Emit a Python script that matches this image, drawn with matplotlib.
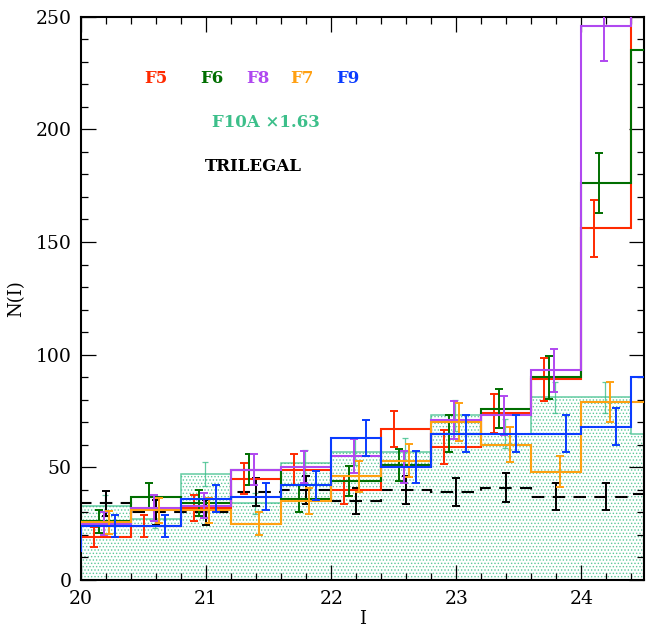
import matplotlib
matplotlib.use("Agg")
import matplotlib.pyplot as plt
import numpy as np
from matplotlib.ticker import MultipleLocator

# Bin edges in I (0.4 mag bins); the first bin sits just left of the plotted range
edges = np.arange(19.6, 24.81, 0.4)
centers = edges[:-1] + 0.2

# Counts per bin (first entry is the out-of-range 19.6-20.0 bin)
f5 = [19, 19, 24, 32, 45, 49, 40, 67, 59, 74, 89, 156, 270]
f6 = [26, 26, 37, 34, 49, 36, 44, 51, 65, 76, 90, 176, 235]
f8 = [25, 25, 32, 33, 49, 50, 55, 50, 71, 73, 93, 246, 300]
f7 = [25.6, 25.6, 31, 31, 25, 35, 46, 53, 70, 60, 48, 79, 79]
f9 = [13, 24, 24, 36, 37, 42, 63, 50, 65, 65, 65, 68, 90]
f10a = [24, 33, 27, 47, 34, 52, 57, 57, 73, 65, 81, 81, 65]
trilegal = [34, 34, 30, 30, 39, 40, 35, 40, 39, 41, 37, 37, 38]

# Poisson error bars per bin
f5_err = [4.4, 4.4, 4.9, 5.7, 6.7, 7.0, 6.3, 8.2, 7.7, 8.6, 9.4, 12.5, 16]
f6_err = [5.1, 5.1, 6.1, 5.8, 7.0, 6.0, 6.6, 7.1, 8.1, 8.7, 9.5, 13.3, 15]
f8_err = [5.0, 5.0, 5.7, 5.7, 7.0, 7.1, 7.4, 7.1, 8.4, 8.5, 9.6, 15.7, 17]
f7_err = [5.1, 5.1, 5.6, 5.6, 5.0, 5.9, 6.8, 7.3, 8.4, 7.7, 6.9, 8.9, 8.9]
f9_err = [3.6, 4.9, 4.9, 6.0, 6.1, 6.5, 7.9, 7.1, 8.1, 8.1, 8.1, 8.2, 9.5]
f10a_err = [3.8, 4.5, 4.1, 5.5, 4.6, 5.6, 5.9, 5.9, 6.7, 6.3, 7.0, 7.0, 6.3]
trilegal_err = [5.7, 5.7, 5.5, 5.5, 6.3, 6.3, 5.9, 6.3, 6.3, 6.5, 6.1, 6.1, 6.2]

RED = "#ff2a00"
GREEN = "#006e00"
PURPLE = "#b048f0"
ORANGE = "#ffa012"
BLUE = "#0a3cff"
TEAL = "#3cbf8a"

plt.rcParams["font.family"] = ["DejaVu Serif"]
plt.rcParams["hatch.linewidth"] = 0.6

fig = plt.figure(figsize=(6.46, 6.30), dpi=100)
ax = fig.add_axes([0.1254, 0.0794, 0.8715, 0.8941])

# F10A: dotted shading under the rescaled histogram
ax.fill_between(edges, np.append(f10a, f10a[-1]), step="post",
                facecolor="none", edgecolor="#5cc89a", hatch=".....",
                linewidth=0, zorder=1)
ax.stairs(f10a, edges, color=TEAL, lw=1.1, alpha=0.8, zorder=2)
ax.errorbar(centers - 0.01, f10a, yerr=f10a_err, fmt="none", ecolor=TEAL,
            elinewidth=0.9, capsize=2.5, capthick=0.9, alpha=0.8, zorder=2)

# TRILEGAL model: dashed histogram
ax.stairs(trilegal, edges, color="black", lw=1.5, linestyle=(0, (6, 4)),
          zorder=3)
ax.errorbar(centers, trilegal, yerr=trilegal_err, fmt="none", ecolor="black",
            elinewidth=1.4, capsize=3, capthick=1.4, zorder=3)

series = [
    (f5, f5_err, RED, -0.10),
    (f6, f6_err, GREEN, -0.06),
    (f8, f8_err, PURPLE, -0.02),
    (f7, f7_err, ORANGE, 0.025),
    (f9, f9_err, BLUE, 0.075),
]
for i, (vals, errs, col, dx) in enumerate(series):
    ax.stairs(vals, edges, color=col, lw=1.5, zorder=4 + i)
    ax.errorbar(centers + dx, vals, yerr=errs, fmt="none", ecolor=col,
                elinewidth=1.4, capsize=3, capthick=1.4, zorder=4 + i)

ax.set_xlim(20, 24.5)
ax.set_ylim(0, 250)
ax.xaxis.set_major_locator(MultipleLocator(1))
ax.xaxis.set_minor_locator(MultipleLocator(0.2))
ax.yaxis.set_major_locator(MultipleLocator(50))
ax.yaxis.set_minor_locator(MultipleLocator(10))
ax.tick_params(which="both", direction="in", top=True, right=True,
               width=0.9, labelsize=13.5, pad=7)
ax.tick_params(which="major", length=11)
ax.tick_params(which="minor", length=5)
for sp in ax.spines.values():
    sp.set_linewidth(1.5)

ax.set_xlabel("I", fontsize=13, labelpad=2)
ax.set_ylabel("N(I)", fontsize=13, labelpad=7)

# Legend labels in the upper left
labels = [("F5", RED, 0.133), ("F6", GREEN, 0.233), ("F8", PURPLE, 0.314),
          ("F7", ORANGE, 0.392), ("F9", BLUE, 0.474)]
for txt, col, xf in labels:
    ax.text(xf, 0.891, txt, color=col, transform=ax.transAxes,
            ha="center", va="center", fontsize=12, fontweight="bold")
ax.text(0.328, 0.812, "F10A \u00d71.63", color=TEAL, transform=ax.transAxes,
        ha="center", va="center", fontsize=12, fontweight="bold")
ax.text(0.307, 0.734, "TRILEGAL", color="black", transform=ax.transAxes,
        ha="center", va="center", fontsize=12, fontweight="bold")

fig.savefig("out.png", dpi=100)
